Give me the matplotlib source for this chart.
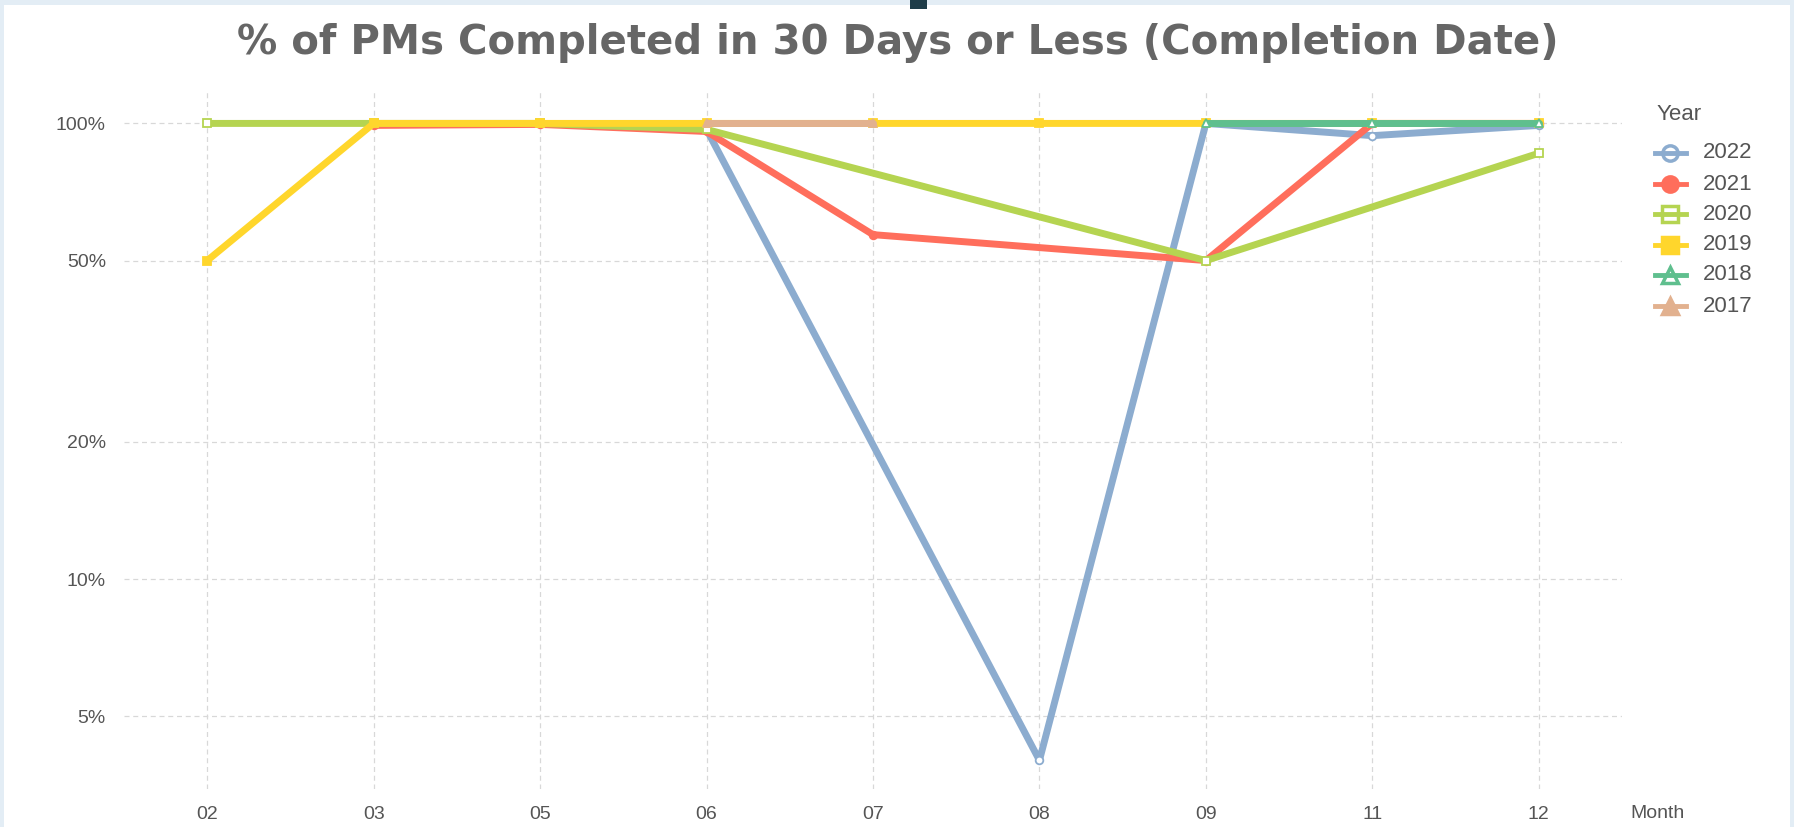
import numpy as np
import matplotlib
matplotlib.use("Agg")
import matplotlib.pyplot as plt
from matplotlib.lines import Line2D
from matplotlib.patches import Rectangle
import matplotlib.ticker as mticker

months = ["02", "03", "05", "06", "07", "08", "09", "11", "12"]
years = ["2022", "2021", "2020", "2019", "2018", "2017"]
nan = np.nan
v2022 = [nan, nan, nan, 97, nan, 4.0, 100, 94, 99]
v2021 = [nan, 99, 99.5, 96, 57, nan, 50, 100, 100]
v2020 = [100, 100, 100, 97, nan, nan, 50, nan, 86]
v2019 = [50, 100, 100, 100, 100, 100, 100, 100, 100]
v2018 = [nan, nan, nan, nan, nan, nan, 100, 100, 100]
v2017 = [nan, nan, nan, 100, 100, nan, nan, nan, nan]
series = [v2022, v2021, v2020, v2019, v2018, v2017]

colors = ["#8caccf", "#ff6e5c", "#b5d451", "#ffd62c", "#5fbf8e", "#e2b18f"]
markers = ["o", "o", "s", "s", "^", "^"]
filled = [False, True, False, True, False, True]

W, H = 1794, 827
fig = plt.figure(figsize=(W / 100, H / 100), dpi=100)
fig.patch.set_facecolor("#e3edf5")
fig.patches.append(Rectangle((4 / W, 0), (1790 - 4) / W, (H - 5) / H,
                             transform=fig.transFigure, facecolor="white",
                             edgecolor="none", zorder=-2))
fig.patches.append(Rectangle((910 / W, (H - 9) / H), 17 / W, 9 / H,
                             transform=fig.transFigure, facecolor="#1e3c48",
                             edgecolor="none", zorder=-1))

ax = fig.add_axes([124 / W, 1 - 789 / H, (1622 - 124) / W, (789 - 89) / H])
ax.set_zorder(5)
ax.set_facecolor("none")
ax.set_yscale("log")
ax.set_ylim(3.46, 119)
ax.set_xlim(-0.5, len(months) - 0.5)

x = np.arange(len(months))
for i, vals in enumerate(series):
    v = np.array(vals, dtype=float)
    m = ~np.isnan(v)
    c = colors[i]
    ax.plot(x[m], v[m], color=c, lw=5, solid_capstyle="round",
            solid_joinstyle="round", zorder=3 + i,
            marker=markers[i], markersize=5.5, markeredgewidth=1.3,
            markeredgecolor=c, markerfacecolor="#ffffff" if not filled[i] else c)

yt = [5, 10, 20, 50, 100]
ax.set_yticks(yt)
ax.yaxis.set_major_formatter(mticker.FuncFormatter(lambda v, p: f"{v:g}%"))
ax.yaxis.set_minor_locator(mticker.NullLocator())
ax.set_xticks(x)
ax.set_xticklabels(months)

tick_font = ["Liberation Sans", "DejaVu Sans"]
for lab in ax.get_xticklabels() + ax.get_yticklabels():
    lab.set_family(tick_font)
    lab.set_fontsize(14)
    lab.set_color("#555555")
ax.tick_params(axis="both", length=0)
ax.tick_params(axis="y", pad=13)
ax.tick_params(axis="x", pad=12)

ax.grid(True, color="#d8d8d8", linestyle=(0, (4, 3)), linewidth=0.9, zorder=1)
for s in ax.spines.values():
    s.set_visible(False)

fig.text(898 / W, 1 - 43 / H, "% of PMs Completed in 30 Days or Less (Completion Date)",
         ha="center", va="center", fontsize=29, fontweight="bold",
         color="#666666", family="DejaVu Sans")
fig.text(1630 / W, 1 - 813 / H, "Month", ha="left", va="center",
         fontsize=14, color="#555555", family=tick_font)

# legend
fig.text(1657 / W, 1 - 114 / H, "Year", ha="left", va="center",
         fontsize=16, color="#555555", family=tick_font)
ys = [153, 184, 214, 245, 275, 306]
for i, yr in enumerate(years):
    yy = 1 - ys[i] / H
    c = colors[i]
    fig.add_artist(Line2D([1655 / W, 1686 / W], [yy, yy], transform=fig.transFigure,
                          color=c, lw=3.5))
    fig.add_artist(Line2D([1670 / W], [yy], transform=fig.transFigure,
                          marker=markers[i], markersize=11, markeredgewidth=2.5,
                          markeredgecolor=c,
                          markerfacecolor=c if filled[i] else "none",
                          linestyle="none"))
    fig.text(1703 / W, yy, yr, ha="left", va="center", fontsize=16,
             color="#555555", family=tick_font)

fig.savefig("out.png", dpi=100, facecolor=fig.get_facecolor())
